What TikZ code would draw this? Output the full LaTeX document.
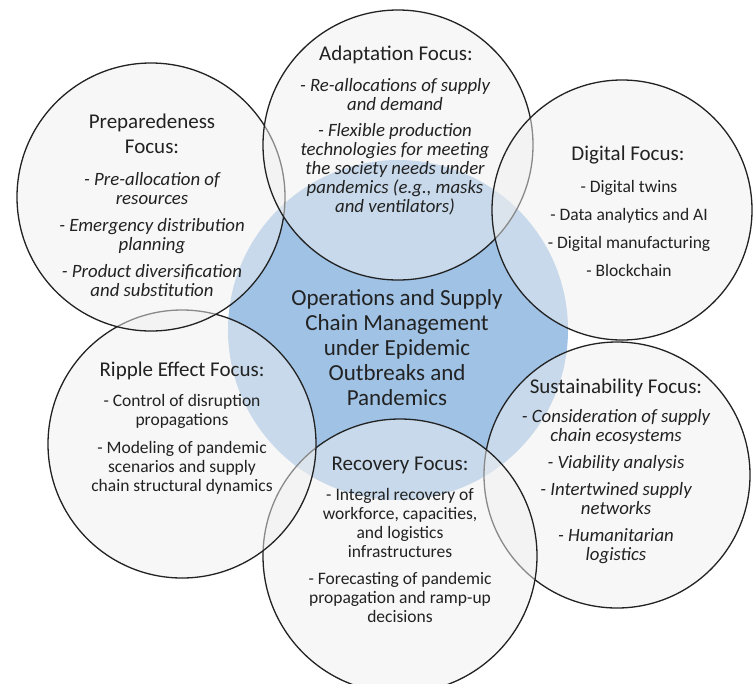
\documentclass[tikz,border=0pt]{standalone}
\usepackage{fontspec}
\setmainfont{Carlito}
\definecolor{blueC}{HTML}{9FC2E5}
\definecolor{satF}{HTML}{F0F0F0}
\definecolor{edgeC}{HTML}{222222}
\definecolor{txtC}{HTML}{222222}
\tikzset{
  satcircle/.style={circle, inner sep=0pt, fill=satF, fill opacity=0.5, draw=edgeC, draw opacity=1, line width=1.3pt},
  titletext/.style={font=\fontsize{21}{25}\selectfont, text=txtC, align=center, anchor=north, inner sep=0pt},
  bodytext/.style={font=\fontsize{17.5}{19}\selectfont, text=txtC, align=center, anchor=north, inner sep=0pt},
  bodyital/.style={bodytext, font=\fontsize{18.8}{19}\selectfont\itshape},
  centertext/.style={font=\fontsize{23}{25}\selectfont, text=txtC, align=center, anchor=north, inner sep=0pt}
}
\begin{document}
\begin{tikzpicture}[x=1pt,y=-1pt]
\useasboundingbox (0,0) rectangle (754,683);
\fill[white] (0,0) rectangle (754,683);
% central circle
\node[circle, inner sep=0pt, fill=blueC, minimum size=340pt] (core) at (398,330) {};
% satellites (drawing order matters for the grey overlaps)
\node[satcircle, minimum size=266pt] (sust) at (617,475) {};
\node[satcircle, minimum size=274pt] (reco) at (400,556) {};
\node[satcircle, minimum size=268pt] (ripp) at (182,444) {};
\node[satcircle, minimum size=268pt] (prep) at (151,197) {};
\node[satcircle, minimum size=270pt] (adap) at (398,145) {};
\node[satcircle, minimum size=260pt] (digi) at (622,210) {};
% texts
\node[centertext] (coreT) at (397,287.5) {\strut Operations and Supply\\Chain Management\\under Epidemic\\Outbreaks and\\Pandemics};

\node[titletext] (adapT) at (396,42.5) {\strut Adaptation Focus:};
\node[bodyital] (adapB) at (395,77.7) {\strut - Re-allocations of supply\\and demand\\[7pt]- Flexible production\\technologies for meeting\\the society needs under\\pandemics (e.g., masks\\and ventilators)};

\node[titletext] (prepT) at (152,110.5) {\strut Preparedeness\\Focus:};
\node[bodyital] (prepB) at (152,171.7) {\strut - Pre-allocation of\\resources\\[8pt]- Emergency distribution\\planning\\[8pt]- Product diversification\\and substitution};

\node[titletext] (digiT) at (628,142.5) {\strut Digital Focus:};
\node[bodytext] (digiB) at (629,178.7) {\strut - Digital twins\\[9pt]- Data analytics and AI\\[9pt]- Digital manufacturing\\[9pt]- Blockchain};

\node[titletext] (rippT) at (182,358.5) {\strut Ripple Effect Focus:};
\node[bodytext] (rippB) at (182,392.7) {\strut - Control of disruption\\propagations\\[9pt]- Modeling of pandemic\\scenarios and supply\\chain structural dynamics};

\node[titletext] (recoT) at (400,452.5) {\strut Recovery Focus:};
\node[bodytext] (recoB) at (400,486.7) {\strut - Integral recovery of\\workforce, capacities,\\and logistics\\infrastructures\\[8pt]- Forecasting of pandemic\\propagation and ramp-up\\decisions};

\node[titletext] (sustT) at (616,375.5) {\strut Sustainability Focus:};
\node[bodyital] (sustB) at (616,408.7) {\strut - Consideration of supply\\chain ecosystems\\[8pt]- Viability analysis\\[8pt]- Intertwined supply\\networks\\[8pt]- Humanitarian\\logistics};
\end{tikzpicture}
\end{document}
